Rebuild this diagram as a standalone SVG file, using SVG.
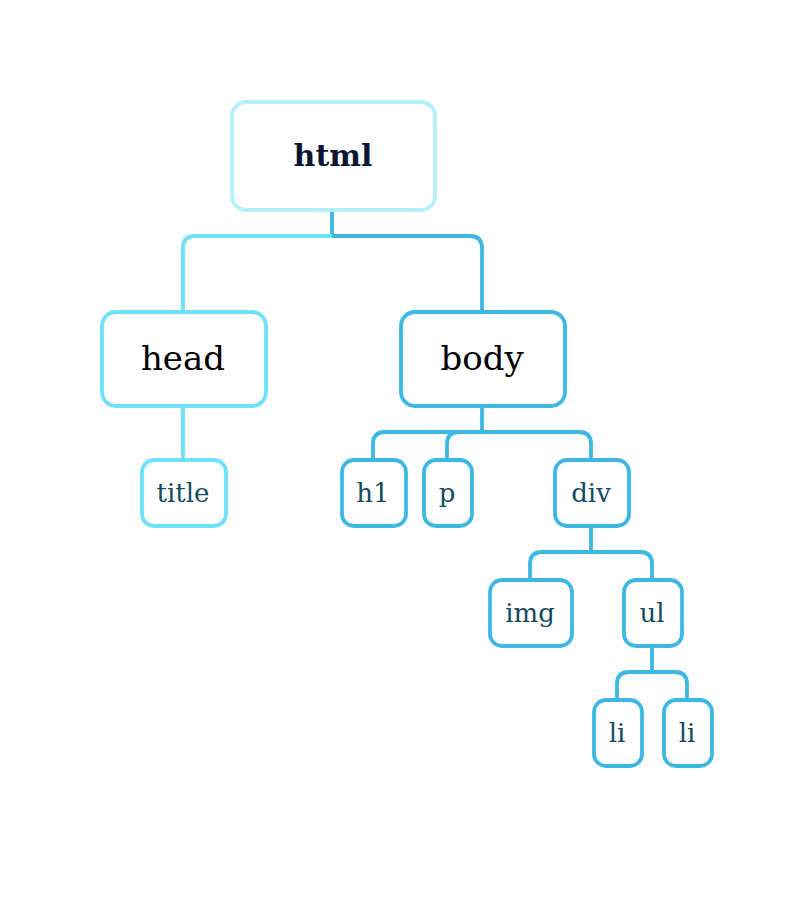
<svg xmlns="http://www.w3.org/2000/svg" width="812" height="897" viewBox="0 0 812 897">
<style>
.n{fill:#fff;stroke-width:3.8}
.c{fill:none;stroke-width:3.8}
.lv1{stroke:#b3f0fb}
.lv2{stroke:#6ee0f7}
.lv3{stroke:#3db8e2}
text{font-family:"DejaVu Serif",serif;text-anchor:middle}
.big{font-size:34px;fill:#000}
.sm{font-size:26px;fill:#134a5e}
</style>
<rect width="812" height="897" fill="#fff"/>
<g id="connectors">
<path class="c lv3" d="M332 210 V236 H470 Q482 236 482 248 V312"/>
<path class="c lv2" d="M332 236 H195 Q183 236 183 248 V312"/>
<path class="c lv2" d="M183 406 V460"/>
<path class="c lv3" d="M482 406 V432 H385 Q373 432 373 444 V460 M459 432 Q447 432 447 444 V460 M482 432 H579 Q591 432 591 444 V460"/>
<path class="c lv3" d="M591 526 V552 H542 Q530 552 530 564 V580 M591 552 H640 Q652 552 652 564 V580"/>
<path class="c lv3" d="M652 646 V672 H629 Q617 672 617 684 V700 M652 672 H675 Q687 672 687 684 V700"/>
</g>
<g id="html"><rect class="n lv1" x="232" y="102" width="203" height="108" rx="14"/><text x="333" y="166" font-size="30" font-weight="bold" fill="#0a1633">html</text></g>
<g id="head"><rect class="n lv2" x="102" y="312" width="164" height="94" rx="14"/><text class="big" x="183" y="370">head</text></g>
<g id="body"><rect class="n lv3" x="401" y="312" width="164" height="94" rx="14"/><text class="big" x="482" y="370">body</text></g>
<g id="title"><rect class="n lv2" x="142" y="460" width="84" height="66" rx="12"/><text class="sm" x="183" y="502">title</text></g>
<g id="h1"><rect class="n lv3" x="342" y="460" width="64" height="66" rx="12"/><text class="sm" x="373" y="502">h1</text></g>
<g id="p"><rect class="n lv3" x="424" y="460" width="48" height="66" rx="12"/><text class="sm" x="447" y="502">p</text></g>
<g id="div"><rect class="n lv3" x="555" y="460" width="74" height="66" rx="12"/><text class="sm" x="591" y="502">div</text></g>
<g id="img"><rect class="n lv3" x="490" y="580" width="82" height="66" rx="12"/><text class="sm" x="530" y="622">img</text></g>
<g id="ul"><rect class="n lv3" x="624" y="580" width="58" height="66" rx="12"/><text class="sm" x="652" y="622">ul</text></g>
<g id="li1"><rect class="n lv3" x="594" y="700" width="48" height="66" rx="12"/><text class="sm" x="617" y="742">li</text></g>
<g id="li2"><rect class="n lv3" x="664" y="700" width="48" height="66" rx="12"/><text class="sm" x="687" y="742">li</text></g>
</svg>
